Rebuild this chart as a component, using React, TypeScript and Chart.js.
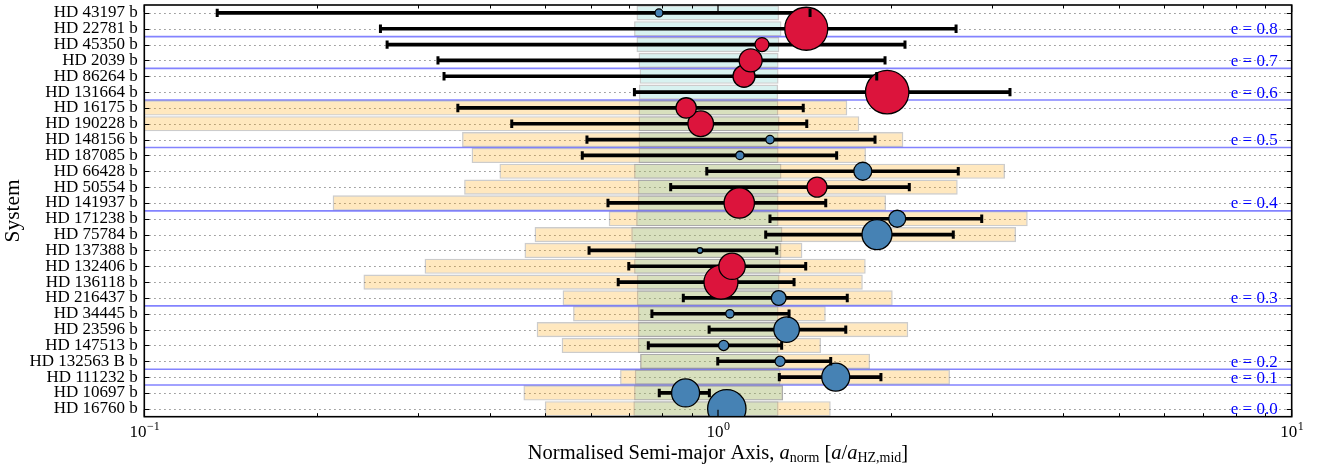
import React, { useEffect, useRef } from 'react';
import { Chart, registerables } from 'chart.js';

Chart.register(...registerables);

// ---------------- data ----------------
const systems = [
  'HD 43197 b', 'HD 22781 b', 'HD 45350 b', 'HD 2039 b', 'HD 86264 b', 'HD 131664 b',
  'HD 16175 b', 'HD 190228 b', 'HD 148156 b', 'HD 187085 b', 'HD 66428 b', 'HD 50554 b',
  'HD 141937 b', 'HD 171238 b', 'HD 75784 b', 'HD 137388 b', 'HD 132406 b', 'HD 136118 b',
  'HD 216437 b', 'HD 34445 b', 'HD 23596 b', 'HD 147513 b', 'HD 132563 B b', 'HD 111232 b',
  'HD 10697 b', 'HD 16760 b',
];

// normalised semi-major axis of the planet
const aNorm = [0.789, 1.425, 1.193, 1.140, 1.110, 1.972, 0.880, 0.933, 1.232, 1.092, 1.788, 1.488, 1.089,
  2.053, 1.893, 0.930, 1.058, 1.012, 1.276, 1.049, 1.317, 1.023, 1.283, 1.604, 0.878, 1.036];
// periastron / apastron range (error bars)
const aLow: (number | null)[] = [0.134, 0.258, 0.265, 0.325, 0.333, 0.715, 0.352, 0.437, 0.591, 0.580, 0.956, 0.827, 0.643,
  1.232, 1.211, 0.596, 0.699, 0.670, 0.870, 0.767, 0.965, 0.756, 0.999, 1.279, 0.790, null];
const aHigh: (number | null)[] = [1.447, 2.600, 2.118, 1.955, 1.891, 3.228, 1.408, 1.428, 1.878, 1.610, 2.623, 2.155, 1.541,
  2.882, 2.571, 1.266, 1.422, 1.357, 1.680, 1.330, 1.670, 1.291, 1.572, 1.923, 0.966, null];
// planet marker size (mass class)
const markerSize = [4.0, 21.5, 7.0, 11.5, 11.0, 21.7, 10.2, 12.8, 4.2, 4.2, 9.0, 10.0, 15.2, 8.5, 15.0, 2.8,
  13.2, 17.0, 7.4, 4.2, 12.8, 5.1, 5.1, 14.0, 14.0, 19.2];
// planet class: R = red marker, B = blue marker
const planetClass = ['B', 'R', 'R', 'R', 'R', 'R', 'R', 'R', 'B', 'B', 'B', 'R', 'R', 'B', 'B', 'B', 'R', 'R',
  'B', 'B', 'B', 'B', 'B', 'B', 'B', 'B'];
// optimistic habitable zone (orange boxes)
const optLow: (number | null)[] = [null, null, null, null, null, null, 0.05, 0.05, 0.358, 0.372, 0.416, 0.361, 0.213,
  0.645, 0.479, 0.460, 0.308, 0.241, 0.536, 0.559, 0.483, 0.534, 0.731, 0.675, 0.458, 0.499];
const optHigh: (number | null)[] = [null, null, null, null, null, null, 1.680, 1.763, 2.104, 1.811, 3.164, 2.617, 1.963,
  3.466, 3.307, 1.403, 1.809, 1.788, 2.016, 1.541, 2.146, 1.512, 1.841, 2.537, 1.299, 1.572];
// conservative habitable zone (teal boxes)
const hzLow = [0.721, 0.714, 0.721, 0.727, 0.730, 0.728, 0.727, 0.727, 0.727, 0.727, 0.714, 0.725, 0.725,
  0.720, 0.706, 0.716, 0.714, 0.722, 0.722, 0.725, 0.725, 0.725, 0.732, 0.716, 0.714, 0.712];
const hzHigh = [1.278, 1.290, 1.279, 1.275, 1.275, 1.273, 1.274, 1.280, 1.275, 1.275, 1.290, 1.275, 1.275,
  1.275, 1.295, 1.290, 1.285, 1.280, 1.280, 1.275, 1.275, 1.275, 1.280, 1.285, 1.298, 1.275];
// eccentricity group labels
const eLabelRows = [1, 3, 5, 8, 12, 18, 22, 23, 25];
const eLabels = ['e = 0.8', 'e = 0.7', 'e = 0.6', 'e = 0.5', 'e = 0.4', 'e = 0.3', 'e = 0.2', 'e = 0.1', 'e = 0.0'];
const eDividerRows = [1, 3, 5, 8, 12, 18, 22, 23];
// x tick labels
const xMajorTicks = [0.1, 1, 10];
const xMajorExp = ['\u22121', '0', '1'];

const SERIF = '"Liberation Serif", "DejaVu Serif", serif';

const decorPlugin = {
  id: 'decor',
  beforeDatasetsDraw(chart: any) {
    const { ctx, chartArea: ca, scales } = chart;
    const y = scales.y;
    ctx.save();
    ctx.strokeStyle = '#7a7a7a';
    ctx.lineWidth = 1;
    ctx.setLineDash([1.3, 3.7]);
    systems.forEach((_, i) => {
      const py = Math.round(y.getPixelForValue(i)) + 0.5;
      ctx.beginPath();
      ctx.moveTo(ca.left, py);
      ctx.lineTo(ca.right, py);
      ctx.stroke();
    });
    ctx.setLineDash([]);
    ctx.strokeStyle = 'rgba(30,30,255,0.55)';
    ctx.lineWidth = 1.6;
    eDividerRows.forEach((r) => {
      const py = (y.getPixelForValue(r) + y.getPixelForValue(r + 1)) / 2;
      ctx.beginPath();
      ctx.moveTo(ca.left, py);
      ctx.lineTo(ca.right, py);
      ctx.stroke();
    });
    ctx.restore();
  },
  afterDatasetsDraw(chart: any) {
    const { ctx, chartArea: ca, scales } = chart;
    const x = scales.x;
    const y = scales.y;
    ctx.save();
    // ticks
    ctx.strokeStyle = '#000';
    ctx.lineWidth = 1;
    const minors: number[] = [];
    [0.1, 1].forEach((k) => { for (let m = 2; m <= 9; m++) minors.push(m * k); });
    minors.forEach((v) => {
      const px = Math.round(x.getPixelForValue(v)) + 0.5;
      ctx.beginPath();
      ctx.moveTo(px, ca.bottom); ctx.lineTo(px, ca.bottom - 3.5);
      ctx.moveTo(px, ca.top); ctx.lineTo(px, ca.top + 3.5);
      ctx.stroke();
    });
    ctx.lineWidth = 1.2;
    xMajorTicks.forEach((v) => {
      const px = x.getPixelForValue(v);
      ctx.beginPath();
      ctx.moveTo(px, ca.bottom); ctx.lineTo(px, ca.bottom - 7);
      ctx.moveTo(px, ca.top); ctx.lineTo(px, ca.top + 7);
      ctx.stroke();
    });
    systems.forEach((_, i) => {
      const py = Math.round(y.getPixelForValue(i)) + 0.5;
      ctx.beginPath();
      ctx.moveTo(ca.left, py); ctx.lineTo(ca.left + 5, py);
      ctx.moveTo(ca.right, py); ctx.lineTo(ca.right - 5, py);
      ctx.stroke();
    });
    // frame
    ctx.lineWidth = 1.6;
    ctx.strokeRect(ca.left, ca.top, ca.right - ca.left, ca.bottom - ca.top);

    // e labels
    ctx.fillStyle = '#0000ff';
    ctx.font = `17px ${SERIF}`;
    ctx.textAlign = 'right';
    ctx.textBaseline = 'middle';
    eLabelRows.forEach((r, k) => {
      ctx.fillText(eLabels[k], ca.right - 14, y.getPixelForValue(r) + 1);
    });

    // x tick labels
    ctx.fillStyle = '#000';
    ctx.textBaseline = 'alphabetic';
    ctx.textAlign = 'left';
    xMajorTicks.forEach((v, k) => {
      const px = x.getPixelForValue(v);
      ctx.font = `17px ${SERIF}`;
      const w1 = ctx.measureText('10').width;
      ctx.font = `12px ${SERIF}`;
      const w2 = ctx.measureText(xMajorExp[k]).width;
      const start = px - (w1 + w2) / 2;
      const base = ca.bottom + 20;
      ctx.font = `17px ${SERIF}`;
      ctx.fillText('10', start, base);
      ctx.font = `12px ${SERIF}`;
      ctx.fillText(xMajorExp[k], start + w1 + 0.5, base - 7);
    });

    // x title with sub-scripts
    const pieces = [
      { t: 'Normalised Semi-major Axis, ', f: `20.5px ${SERIF}`, dy: 0 },
      { t: 'a', f: `italic 20.5px ${SERIF}`, dy: 0 },
      { t: 'norm', f: `14px ${SERIF}`, dy: 3 },
      { t: ' [', f: `20.5px ${SERIF}`, dy: 0 },
      { t: 'a', f: `italic 20.5px ${SERIF}`, dy: 0 },
      { t: '/', f: `20.5px ${SERIF}`, dy: 0 },
      { t: 'a', f: `italic 20.5px ${SERIF}`, dy: 0 },
      { t: 'HZ,mid', f: `14px ${SERIF}`, dy: 3 },
      { t: ']', f: `20.5px ${SERIF}`, dy: 0 },
    ];
    let total = 0;
    const widths = pieces.map((p) => { ctx.font = p.f; const w = ctx.measureText(p.t).width; total += w; return w; });
    let cx = (ca.left + ca.right) / 2 - total / 2;
    const tb = 459;
    pieces.forEach((p, i) => {
      ctx.font = p.f;
      ctx.fillText(p.t, cx, tb + p.dy);
      cx += widths[i];
    });

    // y title
    ctx.translate(13, (ca.top + ca.bottom) / 2);
    ctx.rotate(-Math.PI / 2);
    ctx.textAlign = 'center';
    ctx.textBaseline = 'middle';
    ctx.font = `21.5px ${SERIF}`;
    ctx.fillText('System', 0, 0);
    ctx.restore();
  },
};

export default function App() {
  const ref = useRef<HTMLCanvasElement | null>(null);

  useEffect(() => {
    document.body.style.margin = '0';
    const canvas = ref.current;
    if (!canvas) return;

    const orange = optLow.map((lo, i) => (lo == null || optHigh[i] == null ? null : [lo, optHigh[i]]));
    const hz = hzLow.map((lo, i) => [lo, hzHigh[i]]);
    const bars = aLow.map((lo, i) => (lo == null || aHigh[i] == null ? null : [lo, aHigh[i]]));
    const caps: { x: number; y: string }[] = [];
    systems.forEach((s, i) => {
      if (aLow[i] != null) caps.push({ x: aLow[i] as number, y: s });
      if (aHigh[i] != null) caps.push({ x: aHigh[i] as number, y: s });
    });
    const idx = systems.map((_, i) => i).reverse();
    const bubbles = idx.map((i) => ({ x: aNorm[i], y: systems[i], r: markerSize[i] }));
    const bubbleColors = idx.map((i) => (planetClass[i] === 'R' ? '#DC143C' : '#4682B4'));

    const chart = new Chart(canvas, {
      type: 'bar',
      data: {
        labels: systems,
        datasets: [
          {
            type: 'scatter',
            data: caps as any,
            pointStyle: 'line',
            rotation: 90,
            pointRadius: 4.2,
            borderColor: '#000',
            borderWidth: 3,
            order: 0,
          } as any,
          {
            type: 'bubble',
            data: bubbles as any,
            backgroundColor: bubbleColors,
            borderColor: '#000',
            borderWidth: 1.3,
            clip: 0,
            order: 1,
          } as any,
          {
            type: 'bar',
            data: bars as any,
            backgroundColor: '#000',
            borderWidth: 0,
            barThickness: 3,
            grouped: false,
            order: 2,
          } as any,
          {
            type: 'bar',
            data: hz as any,
            backgroundColor: 'rgba(78,196,187,0.22)',
            borderColor: 'rgba(110,110,110,0.35)',
            borderWidth: 1.4,
            borderSkipped: false,
            barPercentage: 0.96,
            categoryPercentage: 1,
            grouped: false,
            order: 3,
          } as any,
          {
            type: 'bar',
            data: orange as any,
            backgroundColor: 'rgba(255,165,0,0.25)',
            borderColor: 'rgba(110,110,110,0.35)',
            borderWidth: 1.4,
            borderSkipped: false,
            barPercentage: 0.96,
            categoryPercentage: 1,
            grouped: false,
            order: 4,
          } as any,
        ],
      },
      options: {
        indexAxis: 'y',
        responsive: false,
        animation: false,
        devicePixelRatio: 1,
        events: [],
        layout: { autoPadding: false, padding: { top: 5, right: 28.3, bottom: 54.3, left: 0 } },
        plugins: { legend: { display: false }, tooltip: { enabled: false } },
        scales: {
          x: { type: 'logarithmic', min: 0.1, max: 10, display: false },
          y: {
            type: 'category',
            offset: true,
            grid: { display: false, drawTicks: false },
            border: { display: false },
            ticks: {
              autoSkip: false,
              color: '#000',
              padding: 6.6,
              font: { family: SERIF, size: 17 },
            },
            afterFit: (s: any) => {
              s.width = 144.3;
              s.paddingTop = 0;
              s.paddingBottom = 0;
            },
          },
        },
      } as any,
      plugins: [decorPlugin],
    });
    return () => chart.destroy();
  }, []);

  return (
    <div style={{ width: 1320, height: 471 }}>
      <canvas ref={ref} width={1320} height={471} style={{ width: 1320, height: 471, display: 'block' }} />
    </div>
  );
}
